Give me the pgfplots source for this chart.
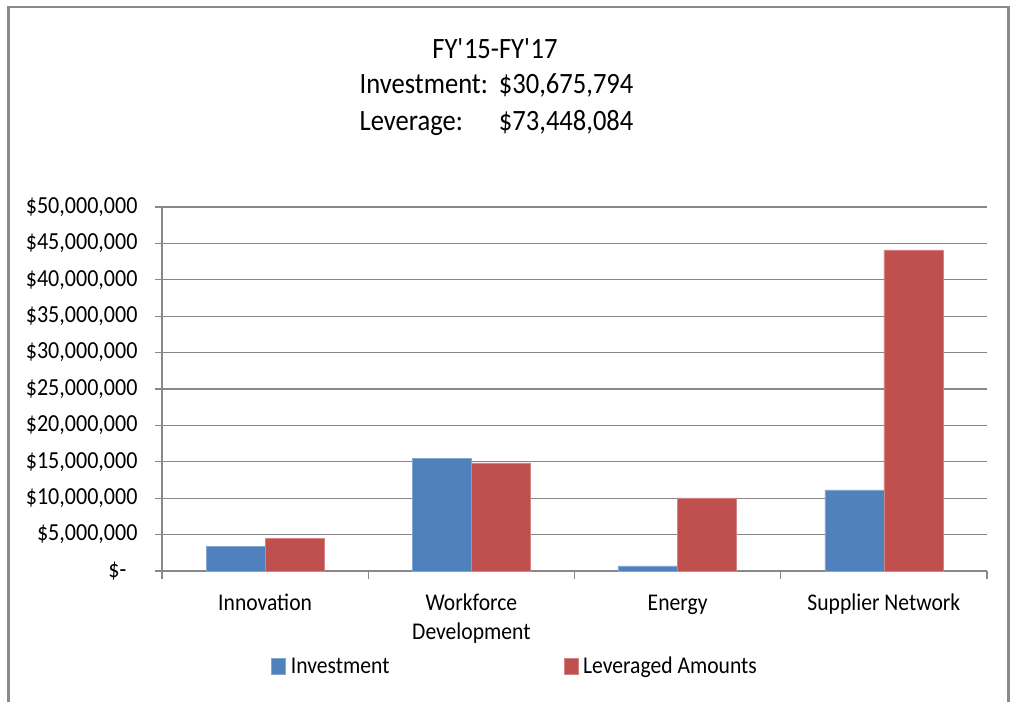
\documentclass[border=0pt]{standalone}
\usepackage{fontspec}
\setmainfont{Carlito}[FakeStretch=0.9]
\usepackage{pgfplots}
\pgfplotsset{compat=1.18}
\definecolor{invblue}{HTML}{4F81BD}
\definecolor{levred}{HTML}{C0504D}
\definecolor{gridgray}{HTML}{888888}
\definecolor{framegray}{HTML}{8A8A8A}
\begin{document}
\begin{tikzpicture}
\path[fill=white] (0pt,0pt) rectangle (1016pt,-702pt);
\draw[framegray, line width=2.2pt] (8.5pt,-702pt) -- (8.5pt,-7pt) -- (1008.5pt,-7pt) -- (1008.5pt,-702pt);
\node[font=\fontsize{29.5}{37}\selectfont, inner sep=0pt] at (495pt,-49pt) {FY\textquotesingle15-FY\textquotesingle17};
\node[font=\fontsize{29.5}{37}\selectfont, inner sep=0pt] at (496.5pt,-104.5pt) {\renewcommand\arraystretch{1.0}\begin{tabular}{@{}l@{\hspace{11pt}}r@{}}Investment: & \$30,675,794\\ Leverage: & \$73,448,084\end{tabular}};
\begin{axis}[
  at={(162pt,-571pt)}, anchor=south west,
  width=825pt, height=364pt, scale only axis,
  xmin=-0.5, xmax=3.5, ymin=0, ymax=50,
  ybar=0pt, bar width=59pt,
  axis x line*=bottom, axis y line*=left,
  axis line style={-, gridgray, line width=1.2pt},
  tick align=outside,
  major tick length=7pt, minor tick length=8pt,
  tick style={gridgray, line width=1.2pt},
  major x tick style={draw=none},
  xtick={0,1,2,3},
  minor xtick={-0.5,0.5,1.5,2.5,3.5},
  xticklabels={{\strut Innovation},{\strut Workforce\\\strut Development},{\strut Energy},{\strut Supplier Network}},
  xticklabel style={font=\fontsize{24}{29}\selectfont, align=center, yshift=-9pt},
  ytick={0,5,...,50},
  yticklabels={{\$-\hphantom{0}},{\$5,000,000},{\$10,000,000},{\$15,000,000},{\$20,000,000},{\$25,000,000},{\$30,000,000},{\$35,000,000},{\$40,000,000},{\$45,000,000},{\$50,000,000}},
  yticklabel style={font=\fontsize{24.5}{29}\selectfont, xshift=-14pt},
  ymajorgrids,
  grid style={gridgray, line width=1.2pt},
  legend columns=2,
  legend style={at={(0.428,-0.262)}, anchor=center, draw=none, fill=none,
    font=\fontsize{24}{29}\selectfont,
    /tikz/every odd column/.append style={column sep=3pt},
    /tikz/every even column/.append style={column sep=172pt}},
  legend image code/.code={\fill[#1] (0pt,-7.5pt) rectangle (14pt,8pt);},
]
\addplot[fill=invblue, draw=invblue!70!white, line width=0.6pt] coordinates {(0,3.33) (1,15.5) (2,0.7) (3,11.15)};
\addplot[fill=levred, draw=levred!70!white, line width=0.6pt] coordinates {(0,4.47) (1,14.85) (2,10.03) (3,44.1)};
\legend{Investment, Leveraged Amounts}
\end{axis}
\end{tikzpicture}
\end{document}
